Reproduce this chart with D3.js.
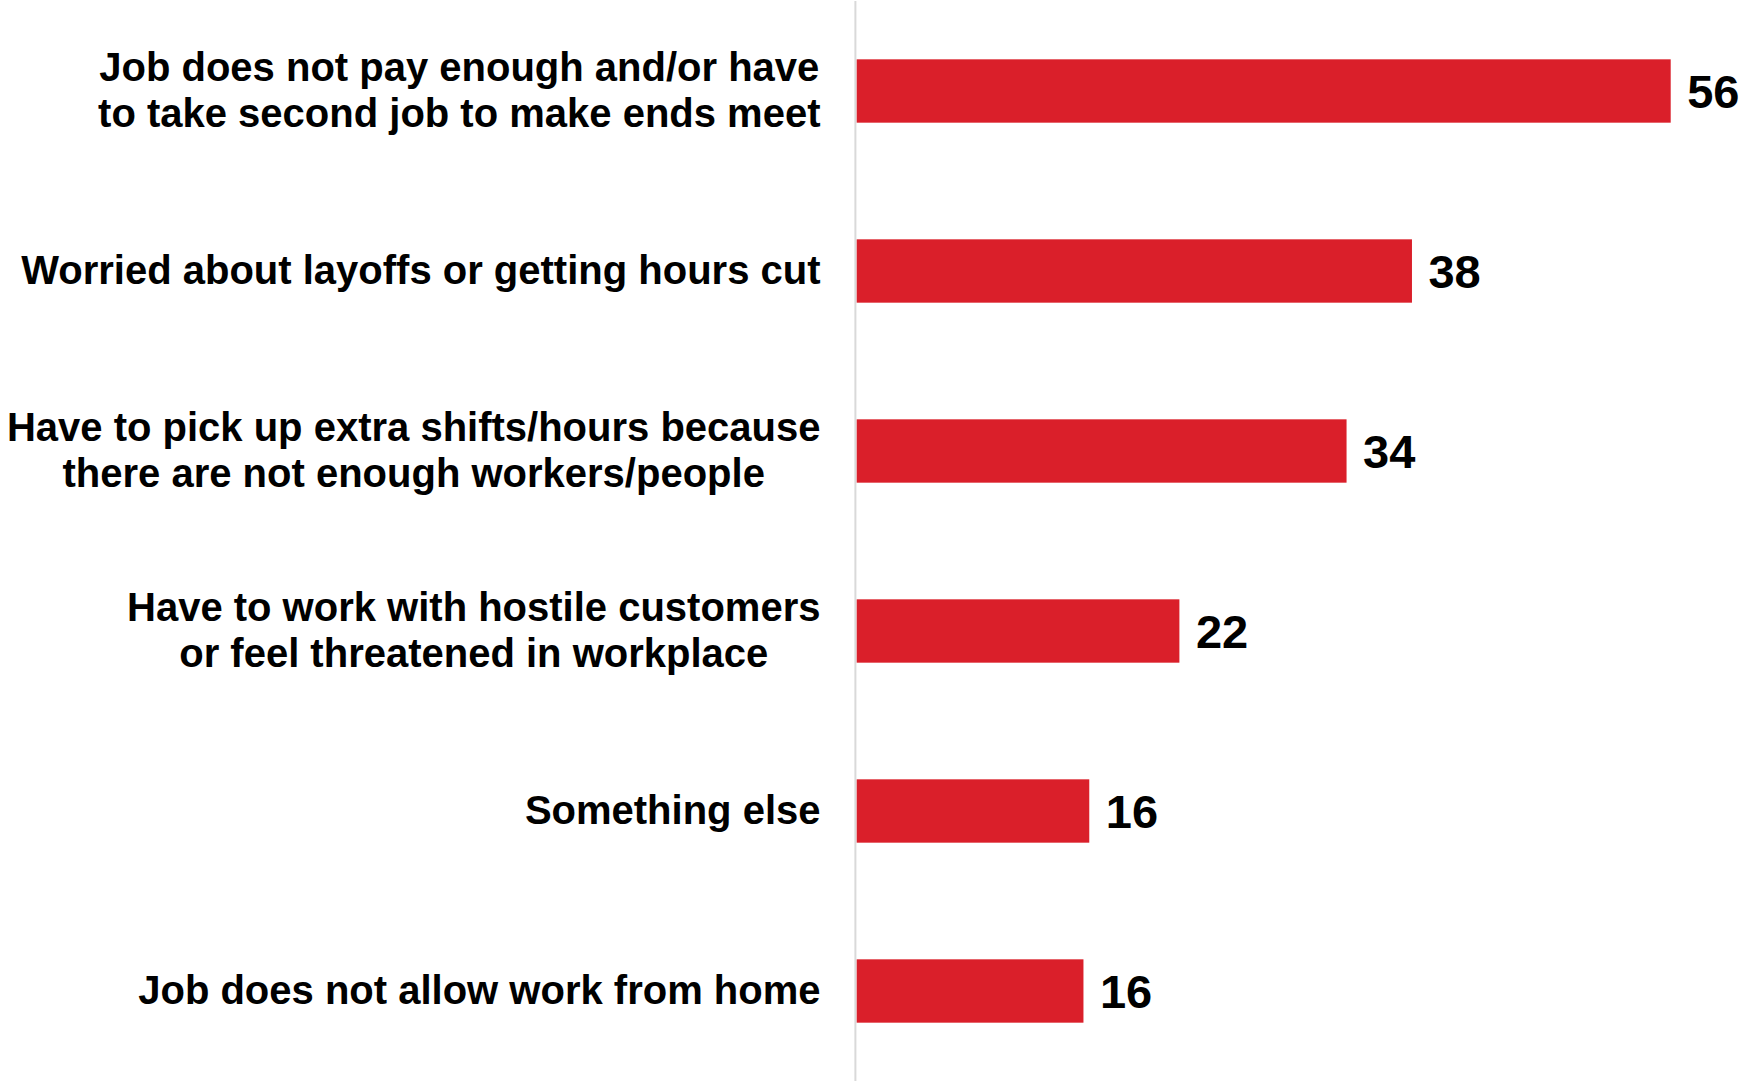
<!DOCTYPE html>
<html>
<head>
<meta charset="utf-8">
<script src="https://cdn.jsdelivr.net/npm/d3@7"></script>
<style>
  html, body { margin: 0; padding: 0; background: #ffffff; }
  svg { display: block; }
</style>
</head>
<body>
<svg id="chart" width="1743" height="1081"></svg>
<script>
const categories = [
  ["Job does not pay enough and/or have", "to take second job to make ends meet"],
  ["Worried about layoffs or getting hours cut"],
  ["Have to pick up extra shifts/hours because", "there are not enough workers/people"],
  ["Have to work with hostile customers", "or feel threatened in workplace"],
  ["Something else"],
  ["Job does not allow work from home"]
];
const values = [56, 38.2, 33.7, 22.2, 16.0, 15.6];
const valueLabels = ["56", "38", "34", "22", "16", "16"];

const W = 1743, H = 1081;
const svg = d3.select("#chart");

const x = d3.scaleLinear().domain([0, 56]).range([856.7, 1670.7]);
const pi = 0.648;
const y = d3.scaleBand()
  .domain(d3.range(categories.length))
  .range([1, 1081])
  .paddingInner(pi)
  .paddingOuter(pi / 2);

// axis line
svg.append("line")
  .attr("x1", 855.4).attr("x2", 855.4)
  .attr("y1", 1).attr("y2", H)
  .attr("stroke", "#d9d9d9")
  .attr("stroke-width", 2);

// bars
svg.selectAll("rect.bar")
  .data(values)
  .join("rect")
  .attr("class", "bar")
  .attr("x", x(0))
  .attr("y", (d, i) => y(i))
  .attr("width", d => x(d) - x(0))
  .attr("height", y.bandwidth())
  .attr("fill", "#da1f2a");

// value labels
svg.selectAll("text.val")
  .data(values)
  .join("text")
  .attr("class", "val")
  .attr("x", d => x(d) + 16.5)
  .attr("y", (d, i) => y(i) + y.bandwidth() / 2 + 16.8)
  .attr("font-family", "Liberation Sans, Arial, sans-serif")
  .attr("font-weight", "bold")
  .attr("font-size", 47)
  .attr("fill", "#000")
  .text((d, i) => valueLabels[i]);

// category labels
const rightEdge = 820.5;
const lineH = 46;
categories.forEach((lines, i) => {
  const cy = y(i) + y.bandwidth() / 2;
  const t = svg.append("text")
    .attr("font-family", "Liberation Sans, Arial, sans-serif")
    .attr("font-weight", "bold")
    .attr("font-size", 40)
    .attr("fill", "#000")
    .attr("text-anchor", "middle");
  const spans = lines.map((ln, j) =>
    t.append("tspan")
      .attr("y", cy + 13 + (j - (lines.length - 1) / 2) * lineH)
      .text(ln)
  );
  const maxW = d3.max(spans, s => s.node().getComputedTextLength());
  spans.forEach(s => s.attr("x", rightEdge - maxW / 2));
});
</script>
</body>
</html>
